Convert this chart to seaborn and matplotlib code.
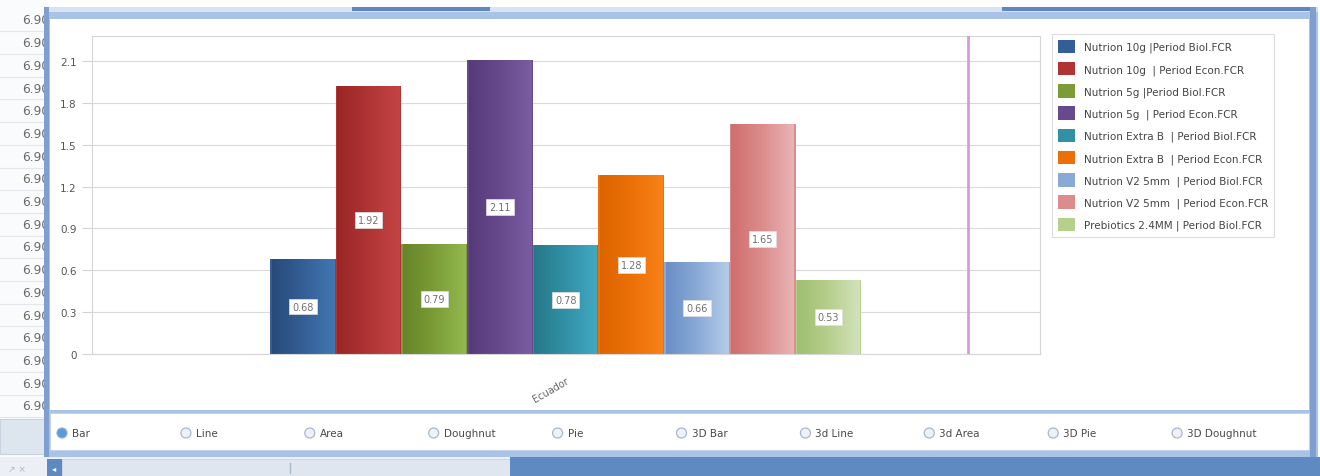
import numpy as np
import pandas as pd
import matplotlib
matplotlib.use("Agg")
import matplotlib.pyplot as plt
from matplotlib.patches import Rectangle, Circle, Patch
from matplotlib.colors import LinearSegmentedColormap
import seaborn as sns

# ---- data -------------------------------------------------------------
country = ["Ecuador"]
series = [
    "Nutrion 10g |Period Biol.FCR",
    "Nutrion 10g  | Period Econ.FCR",
    "Nutrion 5g |Period Biol.FCR",
    "Nutrion 5g  | Period Econ.FCR",
    "Nutrion Extra B  | Period Biol.FCR",
    "Nutrion Extra B  | Period Econ.FCR",
    "Nutrion V2 5mm  | Period Biol.FCR",
    "Nutrion V2 5mm  | Period Econ.FCR",
    "Prebiotics 2.4MM | Period Biol.FCR",
]
fcr = [0.68, 1.92, 0.79, 2.11, 0.78, 1.28, 0.66, 1.65, 0.53]
y_ticks = [0, 0.3, 0.6, 0.9, 1.2, 1.5, 1.8, 2.1]
side_values = ["6.90"] * 18
chart_types = ["Bar", "Line", "Area", "Doughnut", "Pie",
               "3D Bar", "3d Line", "3d Area", "3D Pie", "3D Doughnut"]

# bar shading: left (dark), middle and right (light) of each gradient
shade_dark = ["#284a7a", "#982626", "#66852a", "#563a78", "#267888",
              "#dc6400", "#6a8fc6", "#cf6e6e", "#9fbf70"]
shade_mid = ["#345f96", "#b03434", "#7b9c36", "#674a8c", "#3190a6",
             "#ec7008", "#8aaad6", "#dc8c8c", "#b6cf8c"]
shade_light = ["#4276b2", "#c44444", "#94b850", "#7a5ca2", "#42a8c2",
               "#f78218", "#b4cce8", "#e9b4b4", "#d2e2bc"]

sns.set_theme(style="white")
plt.rcParams["font.family"] = ["DejaVu Sans"]

W, H = 1320, 477
fig = plt.figure(figsize=(W / 100, H / 100), dpi=100, facecolor="white")

# ---- window chrome (pixel coordinates) ---------------------------------
ui = fig.add_axes([0, 0, 1, 1], zorder=0)
ui.set_xlim(0, W)
ui.set_ylim(H, 0)
ui.axis("off")

# side panel with cut-off values (the frame below hides their last digit)
ui.add_patch(Rectangle((0, 0), 46, H, fc="#fafbfc", ec="none", zorder=0.5))
for i, txt in enumerate(side_values):
    yy = 21 + i * 22.7
    ui.text(22, yy, txt, fontsize=8.8, color="#6a6a6a", va="center", ha="left", zorder=1)
    ui.plot([0, 44], [yy + 11.3, yy + 11.3], color="#e3e6ea", lw=0.8, zorder=1)
ui.add_patch(Rectangle((0, 420), 45, 35, fc="#dde5ef", ec="#c9d4e2", lw=0.8, zorder=1))

# outer frame
ui.add_patch(Rectangle((44, 8), 1274, 452, fc="#a9c3e6", ec="none", zorder=3))
ui.add_patch(Rectangle((44, 8), 1274, 5, fc="#d7e3f2", ec="none", zorder=3))
ui.add_patch(Rectangle((352, 8), 138, 4, fc="#5f86c0", ec="none", zorder=3))
ui.add_patch(Rectangle((1002, 8), 310, 4, fc="#5f86c0", ec="none", zorder=3))
ui.add_patch(Rectangle((44, 8), 5, 452, fc="#7e9fcf", ec="none", zorder=3))
ui.add_patch(Rectangle((1310, 8), 6, 452, fc="#7e9fcf", ec="none", zorder=3))
ui.add_patch(Rectangle((50, 20), 1259, 391, fc="white", ec="none", zorder=3))
ui.add_patch(Rectangle((50, 414), 1259, 37, fc="white", ec="#c3d2e6", lw=0.8, zorder=3))

# bottom scroll strip
ui.add_patch(Rectangle((0, 458), W, 19, fc="#eceff3", ec="none", zorder=3))
ui.add_patch(Rectangle((62, 460), 448, 17, fc="#dfe6ef", ec="#c8d3e2", lw=0.6, zorder=3))
ui.plot([290, 290], [464, 474], color="#aab8cc", lw=1, zorder=4)
ui.add_patch(Rectangle((510, 458), 810, 19, fc="#5e89c1", ec="none", zorder=3))
ui.add_patch(Rectangle((47, 460), 15, 17, fc="#5e89c1", ec="none", zorder=3))
ui.text(54, 469, "\u25c2", fontsize=6, color="white", ha="center", va="center", zorder=4)
ui.text(8, 469, "\u2197 \u00d7", fontsize=6.5, color="#b0b6c0", ha="left", va="center", zorder=4)

# chart type selector
for i, name in enumerate(chart_types):
    cx = 62 + i * 123.9
    sel = i == 0
    ui.add_patch(Circle((cx, 434), 5, fc="#5b9bd5" if sel else "#eef2f8",
                        ec="#8fb0d8" if sel else "#a9b8cc", lw=0.9, zorder=4))
    ui.text(cx + 10, 434, name, fontsize=7.5, color="#4a4a4a",
            va="center", ha="left", zorder=4)

# ---- bar chart ---------------------------------------------------------
ax = fig.add_axes([92 / W, 1 - 355 / H, 948 / W, 318 / H], zorder=2)
ax.set_facecolor("white")

df = pd.DataFrame({"country": country * len(series), "series": series, "fcr": fcr})
sns.barplot(data=df, x="country", y="fcr", hue="series", hue_order=series,
            palette=shade_mid, saturation=1, width=0.8, legend=False,
            edgecolor="none", ax=ax)

grad = np.linspace(0, 1, 128).reshape(1, -1)
for k, cont in enumerate(ax.containers):
    cmap = LinearSegmentedColormap.from_list(f"s{k}", [shade_dark[k], shade_mid[k], shade_light[k]])
    for bar in cont:
        x0, y0 = bar.get_x(), bar.get_y()
        w, h = bar.get_width(), bar.get_height()
        im = ax.imshow(grad, cmap=cmap, aspect="auto", origin="lower",
                       extent=[x0 + 0.002, x0 + w - 0.002, y0, y0 + h],
                       zorder=bar.get_zorder() + 0.1, interpolation="bilinear")
        im.set_clip_path(bar)
    ax.bar_label(cont, labels=[f"{v:.2f}" for v in cont.datavalues],
                 label_type="center", fontsize=7, color="#707070", zorder=5,
                 bbox=dict(boxstyle="square,pad=0.3", fc="white", ec="#e0e0e0", lw=0.5))

ax.axvline(0.545, color="#d79ad9", lw=2, zorder=4)

ax.set_xlim(-0.641, 0.642)
ax.set_ylim(0, 2.28)
ax.set_yticks(y_ticks)
ax.set_yticklabels([f"{t:g}" for t in y_ticks])
ax.set_xticks([0])
ax.set_xticklabels(country, rotation=30, ha="right", rotation_mode="anchor",
                   fontsize=7, color="#666666")
ax.tick_params(axis="x", length=0, pad=15, bottom=False)
ax.tick_params(axis="y", left=True, length=7, width=0.8, color="#d4d4d4",
               labelsize=7.5, labelcolor="#555555", pad=4)
ax.yaxis.grid(True, color="#d9d9d9", lw=0.8)
ax.set_axisbelow(True)
ax.set_xlabel("")
ax.set_ylabel("")
for sp in ax.spines.values():
    sp.set_color("#d6d6d6")
    sp.set_linewidth(0.8)

handles = [Patch(fc=c, ec="none") for c in shade_mid]
leg = ax.legend(handles, series, loc="upper left",
                bbox_to_anchor=(1052 / W, 1 - 35 / H), bbox_transform=fig.transFigure,
                frameon=True, fancybox=False, edgecolor="#d4d4d4", fontsize=7.5,
                handlelength=1.7, handleheight=1.6, handletextpad=0.8,
                labelspacing=0.85, borderpad=0.55, borderaxespad=0)
leg.get_frame().set_linewidth(0.8)
for t in leg.get_texts():
    t.set_color("#444444")

fig.savefig("out.png", dpi=100, facecolor="white")
